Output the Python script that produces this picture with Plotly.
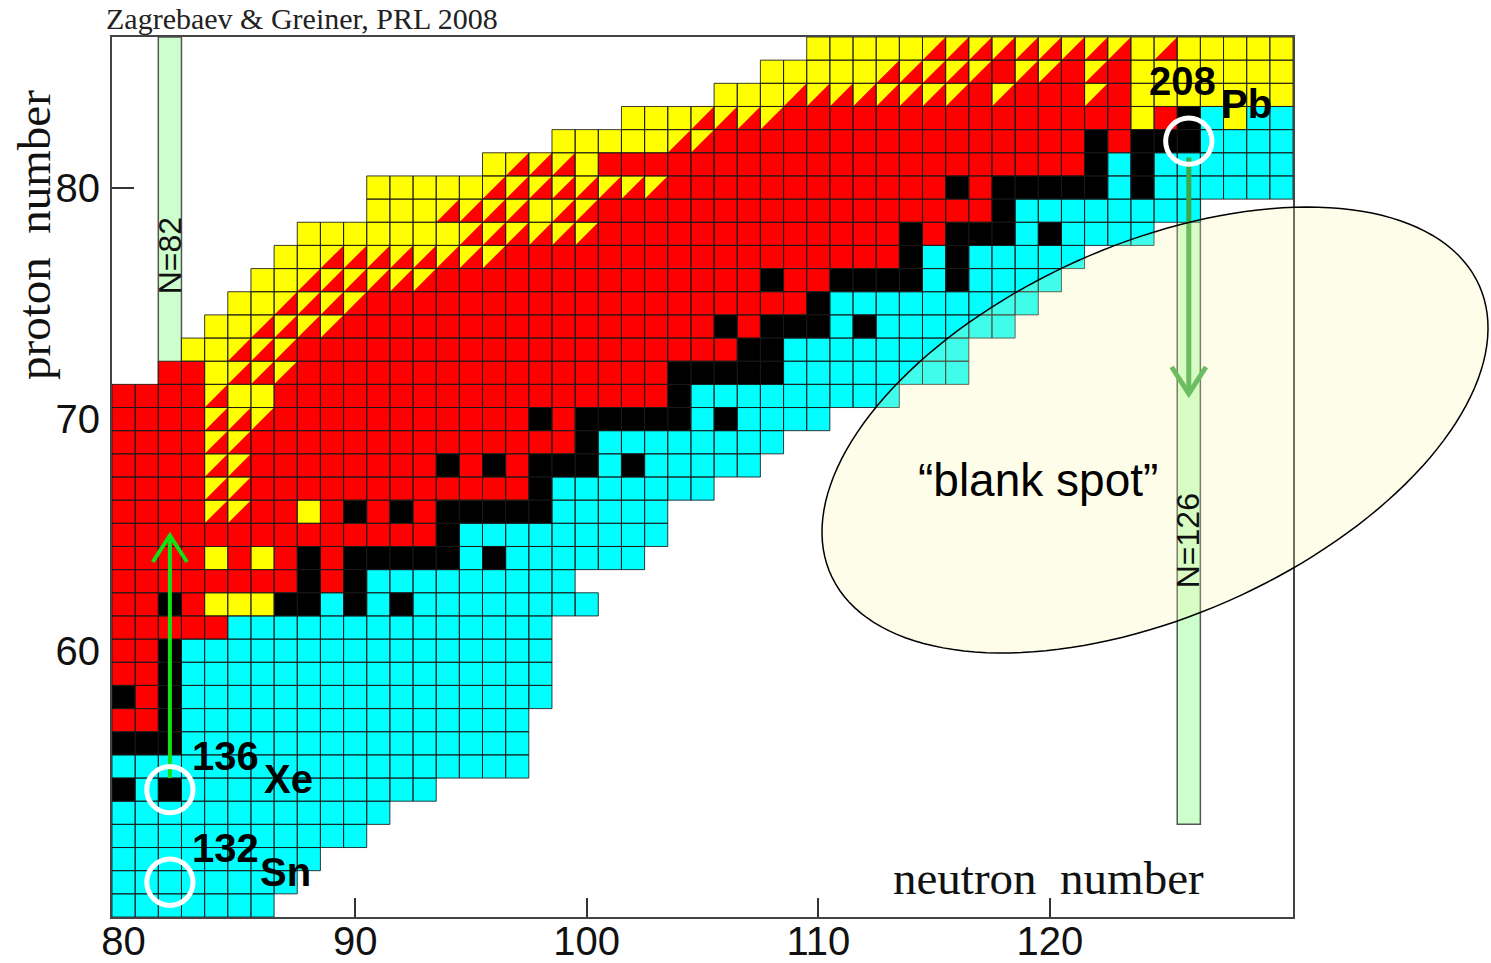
import numpy as np
import plotly.graph_objects as go

# ---- figure geometry -------------------------------------------------------
W, H = 1491, 963
MARGIN = dict(l=112, r=198, t=37, b=46)
PLOT_W = W - MARGIN["l"] - MARGIN["r"]
PLOT_H = H - MARGIN["t"] - MARGIN["b"]
N_RANGE = [79.5, 130.5]
Z_RANGE = [48.5, 86.5]

# ---- chart data ------------------------------------------------------------
# Decay mode of each nuclide, row by row (proton number Z).
# (first neutron number, runs) ; run = code + length
# C = beta-, R = beta+/EC, Y = alpha, S = alpha and beta+/EC, K = stable
decay_rows = {
    86: (110, "Y5 S9 Y1 S1 Y5"),
    85: (108, "Y5 S5 R1 S2 R1 S1 R1 Y7"),
    84: (106, "Y3 S8 R1 S1 R3 S1 R1 Y7"),
    83: (102, "Y3 S4 R15 Y1 R1 K1 C1 Y1 C2"),
    82: (99, "Y5 S2 R16 K1 R1 K3 C4"),
    81: (96, "Y1 S3 Y1 R21 K1 C1 K1 C6"),
    80: (91, "Y5 S8 R12 K1 R1 K5 C1 K1 C6"),
    79: (91, "Y3 S4 Y1 S2 R17 K1 C8"),
    78: (88, "Y7 S6 R13 K1 R1 K3 C1 K1 C4"),
    77: (87, "Y2 S8 R17 K1 C1 K1 C5"),
    76: (86, "Y2 S6 R14 K1 R2 K4 C1 K1 C4"),
    75: (85, "Y2 S4 R19 K1 C9"),
    74: (84, "Y2 S4 R16 K1 R1 K3 C1 K1 C6"),
    73: (83, "Y2 S3 R19 K2 C8"),
    72: (82, "R2 Y1 S3 R16 K5 C8"),
    71: (80, "R4 S1 Y2 R17 K1 C9"),
    70: (80, "R4 S3 R11 K1 R1 K5 C1 K1 C4"),
    69: (80, "R4 S2 R14 K1 C8"),
    68: (80, "R4 S2 R8 K1 R1 K1 R1 K3 C1 K1 C5"),
    67: (80, "R4 S2 R12 K1 C7"),
    66: (80, "R4 S2 R2 Y1 R1 K1 R1 K1 R1 K5 C5"),
    65: (80, "R14 K1 C9"),
    64: (80, "R4 Y1 R1 Y1 R1 K1 R1 K5 C1 K1 C6"),
    63: (80, "R8 K1 R1 K1 C9"),
    62: (80, "R2 K1 R1 Y3 K2 C1 K1 C1 K1 C8"),
    61: (80, "R5 C14"),
    60: (80, "R2 K1 C16"),
    59: (80, "R2 K1 C16"),
    58: (80, "K1 R1 K1 C16"),
    57: (80, "R2 K1 C15"),
    56: (80, "K3 C15"),
    55: (80, "C18"),
    54: (80, "K1 C1 K1 C11"),
    53: (80, "C12"),
    52: (80, "C11"),
    51: (80, "C9"),
    50: (80, "C8"),
    49: (80, "C7"),
}

decay_colors = {"C": "#00FFFF", "R": "#FF0000", "K": "#000000", "Y": "#FFFF00"}

# magic neutron numbers drawn as light-green bands (N, lowest Z of the band)
magic_bands = [(82, 48.5), (126, 52.5)]

# marked nuclei: symbol, N, Z, mass number
marked_nuclei = [("Sn", 82, 50, "132"), ("Xe", 82, 54, "136"), ("Pb", 126, 82, "208")]

# transfer arrows: N, start Z, tip Z, colour, width
arrows = [(82, 54.5, 64.98, "#14E014", 4), (126, 81.3, 71.1, "#3DAA48", 5)]

x_ticks = [80, 90, 100, 110, 120]
y_ticks = [60, 70, 80]

# ---- cell polygons ---------------------------------------------------------
fill_x = {c: [] for c in decay_colors}
fill_y = {c: [] for c in decay_colors}
edge_x, edge_y = [], []


def add_poly(code, xs, ys):
    fill_x[code].extend(xs + [xs[0], None])
    fill_y[code].extend(ys + [ys[0], None])


for z, (n_first, runs) in decay_rows.items():
    n = n_first
    for tok in runs.split():
        code, count = tok[0], int(tok[1:])
        for _ in range(count):
            x0, x1, y0, y1 = n - 0.5, n + 0.5, z - 0.5, z + 0.5
            sq_x, sq_y = [x0, x1, x1, x0], [y0, y0, y1, y1]
            if code == "S":
                add_poly("R", sq_x, sq_y)
                add_poly("Y", [x0, x1, x0], [y1, y1, y0])
            else:
                add_poly(code, sq_x, sq_y)
            edge_x.extend(sq_x + [x0, None])
            edge_y.extend(sq_y + [y0, None])
            n += 1

fig = go.Figure()
for code, color in decay_colors.items():
    fig.add_trace(go.Scatter(
        x=fill_x[code], y=fill_y[code], mode="lines", fill="toself",
        fillcolor=color, line=dict(width=0, color=color),
        hoverinfo="skip", showlegend=False))

fig.add_trace(go.Scatter(
    x=edge_x, y=edge_y, mode="lines",
    line=dict(width=1, color="rgba(25,25,25,0.85)"),
    hoverinfo="skip", showlegend=False))

# ---- arrows ----------------------------------------------------------------
HEAD_W, HEAD_L = 0.74, 1.15
for n, z_from, z_tip, color, width in arrows:
    back = HEAD_L if z_tip > z_from else -HEAD_L
    ax = [n, n, None, n - HEAD_W, n, n + HEAD_W]
    ay = [z_from, z_tip, None, z_tip - back, z_tip, z_tip - back]
    fig.add_trace(go.Scatter(x=ax, y=ay, mode="lines",
                             line=dict(color=color, width=width),
                             hoverinfo="skip", showlegend=False))

# ---- shapes ----------------------------------------------------------------
shapes = []
for n, z_low in magic_bands:
    shapes.append(dict(type="rect", xref="x", yref="y", layer="below",
                       x0=n - 0.5, x1=n + 0.5, y0=z_low, y1=Z_RANGE[1],
                       fillcolor="#CCFFCC", line=dict(color="#555555", width=1.5)))

for sym, n, z, a in marked_nuclei:
    r = 1.0
    shapes.append(dict(type="circle", xref="x", yref="y", layer="above",
                       x0=n - r, x1=n + r, y0=z - r, y1=z + r,
                       line=dict(color="white", width=5)))


def to_paper(px, py):
    return (px - MARGIN["l"]) / PLOT_W, (H - MARGIN["b"] - py) / PLOT_H


# tilted ellipse marking the unexplored region (pixel centre, semi-axes, tilt)
ell_cx, ell_cy, ell_a, ell_b, ell_tilt = 1155, 430, 355, 186, np.radians(24)
t = np.linspace(0, 2 * np.pi, 160)
ex = ell_cx + ell_a * np.cos(t) * np.cos(ell_tilt) - ell_b * np.sin(t) * np.sin(ell_tilt)
ey = ell_cy - (ell_a * np.cos(t) * np.sin(ell_tilt) + ell_b * np.sin(t) * np.cos(ell_tilt))
pts = [to_paper(x, y) for x, y in zip(ex, ey)]
path = "M " + " L ".join(f"{x:.5f},{y:.5f}" for x, y in pts) + " Z"
shapes.append(dict(type="path", xref="paper", yref="paper", layer="above",
                   path=path, fillcolor="rgba(250,248,170,0.25)",
                   line=dict(color="black", width=1.5)))

# ---- text ------------------------------------------------------------------
SANS = "Liberation Sans, Arial, sans-serif"
SERIF = "Liberation Serif, Times New Roman, serif"
annotations = []


def note(text, x, y, size, family=SANS, xref="x", yref="y", xanchor="center",
         yanchor="middle", angle=0, color="black"):
    annotations.append(dict(text=text, x=x, y=y, xref=xref, yref=yref,
                            xanchor=xanchor, yanchor=yanchor, showarrow=False,
                            textangle=angle, font=dict(family=family, size=size, color=color)))


label_offsets = {"Sn": (0.88, 1.47, 3.81, 0.43),
                 "Xe": (0.88, 1.44, 3.98, 0.44),
                 "Pb": (-1.8, 2.6, 1.3, 1.6)}
for sym, n, z, a in marked_nuclei:
    dx_a, dy_a, dx_s, dy_s = label_offsets[sym]
    note(f"<b>{a}</b>", n + dx_a, z + dy_a, 40, xanchor="left")
    note(f"<b>{sym}</b>", n + dx_s, z + dy_s, 40, xanchor="left")

note("N=82", 82, 77.07, 32, angle=-90, color="#111")
note("N=126", 126, 64.76, 32, angle=-90, color="#111")
note("\u201cblank spot\u201d", 119.49, 67.35, 46)

tx, ty = to_paper(104, 18)
note("Zagrebaev &amp; Greiner, PRL 2008", tx, ty, 30, family=SERIF, xref="paper",
     yref="paper", xanchor="left", color="#222")
px_, py_ = to_paper(34, 235)
note("proton\u00a0 number", px_, py_, 47, family=SERIF, xref="paper", yref="paper",
     angle=-90, color="#111")
nx_, ny_ = to_paper(1206, 878)
note("neutron\u00a0 number", nx_, ny_, 47, family=SERIF, xref="paper", yref="paper",
     xanchor="right", color="#111")

axis_common = dict(showgrid=False, zeroline=False, showline=True, mirror=True,
                   linecolor="#444444", linewidth=2, ticks="inside",
                   tickcolor="#333333", tickwidth=1.5, layer="below traces",
                   tickfont=dict(family=SANS, size=40, color="#111"),
                   automargin=False, fixedrange=True)

fig.update_layout(
    width=W, height=H, margin=MARGIN,
    paper_bgcolor="white", plot_bgcolor="white",
    xaxis=dict(range=N_RANGE, tickvals=x_ticks, ticktext=[str(v) for v in x_ticks],
               ticklen=19, ticklabelstandoff=-12, **axis_common),
    yaxis=dict(range=Z_RANGE, tickvals=y_ticks, ticktext=[str(v) for v in y_ticks],
               ticklen=22, ticklabelstandoff=2, **axis_common),
    shapes=shapes, annotations=annotations, showlegend=False,
)

fig.write_html("out.html", config={"displayModeBar": False})
